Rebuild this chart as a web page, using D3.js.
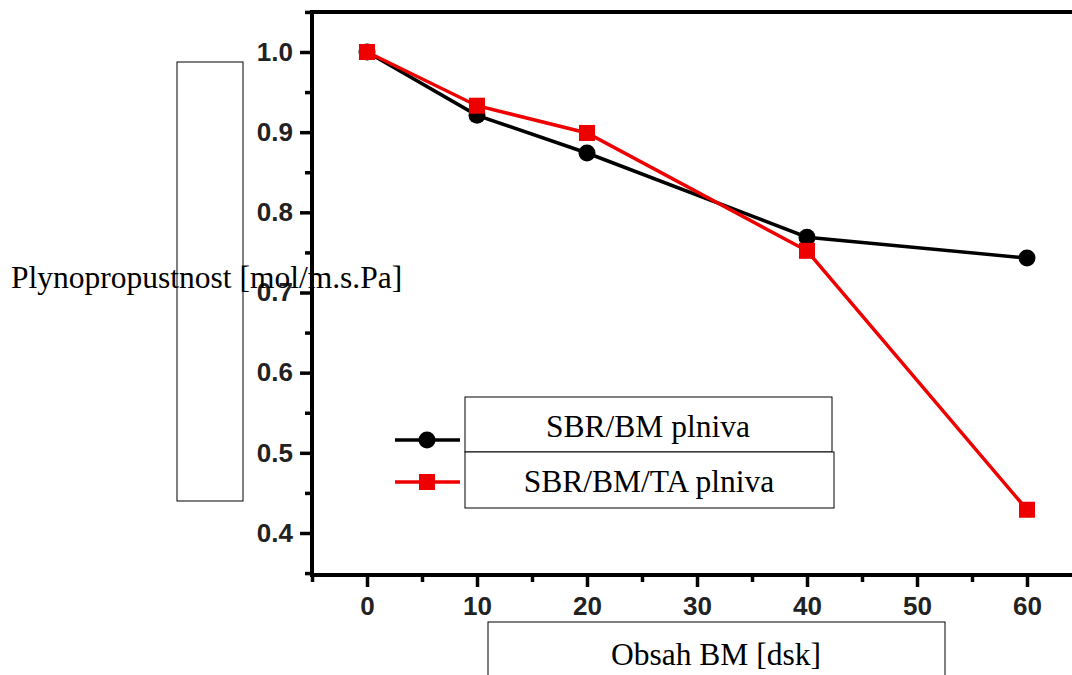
<!DOCTYPE html>
<html>
<head>
<meta charset="utf-8">
<script src="https://cdn.jsdelivr.net/npm/d3@7"></script>
<style>
  body { margin: 0; background: #fff; }
  svg { display: block; }
  .tick text { font-family: "Liberation Sans", Arial, sans-serif; font-weight: bold; font-size: 26px; fill: #222; }
  .lbl { font-family: "Liberation Serif", "Times New Roman", serif; font-size: 31.5px; fill: #000; }
</style>
</head>
<body>
<div id="svg"></div>
<script>
let w = 1072;
let h = 675;

// data
let obsah = [0, 10, 20, 40, 60];
let sbrBM = [1.0, 0.921, 0.874, 0.769, 0.743];
let sbrBMTA = [1.0, 0.933, 0.899, 0.752, 0.429];
let xMajor = [0, 10, 20, 30, 40, 50, 60];
let xMinor = [-5, 5, 15, 25, 35, 45, 55, 65];
let yMajor = [0.4, 0.5, 0.6, 0.7, 0.8, 0.9, 1.0];
let yMinor = [0.35, 0.45, 0.55, 0.65, 0.75, 0.85, 0.95, 1.05];
let seriesNames = ['SBR/BM plniva', 'SBR/BM/TA plniva'];

let svg = d3.select('#svg')
  .append('svg')
  .attr('width', w)
  .attr('height', h);

let xScale = d3.scaleLinear().domain([-5, 65]).range([312, 1082]);
let yScale = d3.scaleLinear().domain([0.4, 1.0]).range([533, 52]);

let plotTop = 12, plotBottom = 575;

// empty box behind the y label
svg.append('rect')
  .attr('x', 177).attr('y', 62).attr('width', 66).attr('height', 439)
  .style('fill', 'none').style('stroke', '#000').style('stroke-width', 1);

// frame
svg.append('rect')
  .attr('x', xScale(-5)).attr('y', plotTop)
  .attr('width', 800).attr('height', plotBottom - plotTop)
  .style('fill', 'none').style('stroke', '#000').style('stroke-width', 4);

// axes
let xAxis = d3.axisBottom(xScale).tickValues(xMajor).tickSize(12).tickPadding(10).tickFormat(d3.format('d'));
let xAxisMinor = d3.axisBottom(xScale).tickValues(xMinor).tickSize(7).tickFormat('');
let yAxis = d3.axisLeft(yScale).tickValues(yMajor).tickSize(12).tickPadding(7).tickFormat(d3.format('.1f'));
let yAxisMinor = d3.axisLeft(yScale).tickValues(yMinor).tickSize(7).tickFormat('');

function styleAxis(g) {
  g.select('.domain').remove();
  g.selectAll('.tick line').style('stroke', '#000').style('stroke-width', 3.5);
}

svg.append('g').attr('transform', 'translate(0,' + plotBottom + ')').call(xAxis).call(styleAxis);
svg.append('g').attr('transform', 'translate(0,' + plotBottom + ')').call(xAxisMinor).call(styleAxis);
svg.append('g').attr('transform', 'translate(' + xScale(-5) + ',0)').call(yAxis).call(styleAxis);
svg.append('g').attr('transform', 'translate(' + xScale(-5) + ',0)').call(yAxisMinor).call(styleAxis);

// lines
let line = d3.line().x((d, i) => xScale(obsah[i])).y(d => yScale(d));

svg.append('path').datum(sbrBM).attr('d', line)
  .style('fill', 'none').style('stroke', '#000').style('stroke-width', 3.5);
svg.append('path').datum(sbrBMTA).attr('d', line)
  .style('fill', 'none').style('stroke', '#ee0000').style('stroke-width', 3.5);

svg.selectAll('circle.bm').data(sbrBM).enter().append('circle')
  .attr('class', 'bm')
  .attr('cx', (d, i) => xScale(obsah[i]))
  .attr('cy', d => yScale(d))
  .attr('r', 8.5)
  .style('fill', '#000');

svg.selectAll('rect.ta').data(sbrBMTA).enter().append('rect')
  .attr('class', 'ta')
  .attr('x', (d, i) => xScale(obsah[i]) - 8)
  .attr('y', d => yScale(d) - 8)
  .attr('width', 16).attr('height', 16)
  .style('fill', '#ee0000');

// legend
let legY = [440, 482];
let legColors = ['#000', '#ee0000'];
legY.forEach((y, i) => {
  svg.append('line').attr('x1', 395).attr('x2', 460).attr('y1', y).attr('y2', y)
    .style('stroke', legColors[i]).style('stroke-width', 3.5);
});
svg.append('circle').attr('cx', 427).attr('cy', legY[0]).attr('r', 8.5).style('fill', '#000');
svg.append('rect').attr('x', 419).attr('y', legY[1] - 8).attr('width', 16).attr('height', 16).style('fill', '#ee0000');

svg.append('rect').attr('x', 465).attr('y', 397).attr('width', 367).attr('height', 55)
  .style('fill', '#fff').style('stroke', '#000').style('stroke-width', 1);
svg.append('rect').attr('x', 465).attr('y', 452).attr('width', 369).attr('height', 56)
  .style('fill', '#fff').style('stroke', '#000').style('stroke-width', 1);
svg.append('text').attr('class', 'lbl').attr('x', 648).attr('y', 437)
  .attr('text-anchor', 'middle').text(seriesNames[0]);
svg.append('text').attr('class', 'lbl').attr('x', 649).attr('y', 492)
  .attr('text-anchor', 'middle').text(seriesNames[1]);

// axis titles
svg.append('rect').attr('x', 488).attr('y', 622).attr('width', 457).attr('height', 80)
  .style('fill', 'none').style('stroke', '#000').style('stroke-width', 1);
svg.append('text').attr('class', 'lbl').attr('x', 716).attr('y', 665)
  .attr('text-anchor', 'middle').text('Obsah BM [dsk]');

svg.append('text').attr('class', 'lbl').attr('x', 11).attr('y', 288)
  .text('Plynopropustnost [mol/m.s.Pa]');
</script>
</body>
</html>
